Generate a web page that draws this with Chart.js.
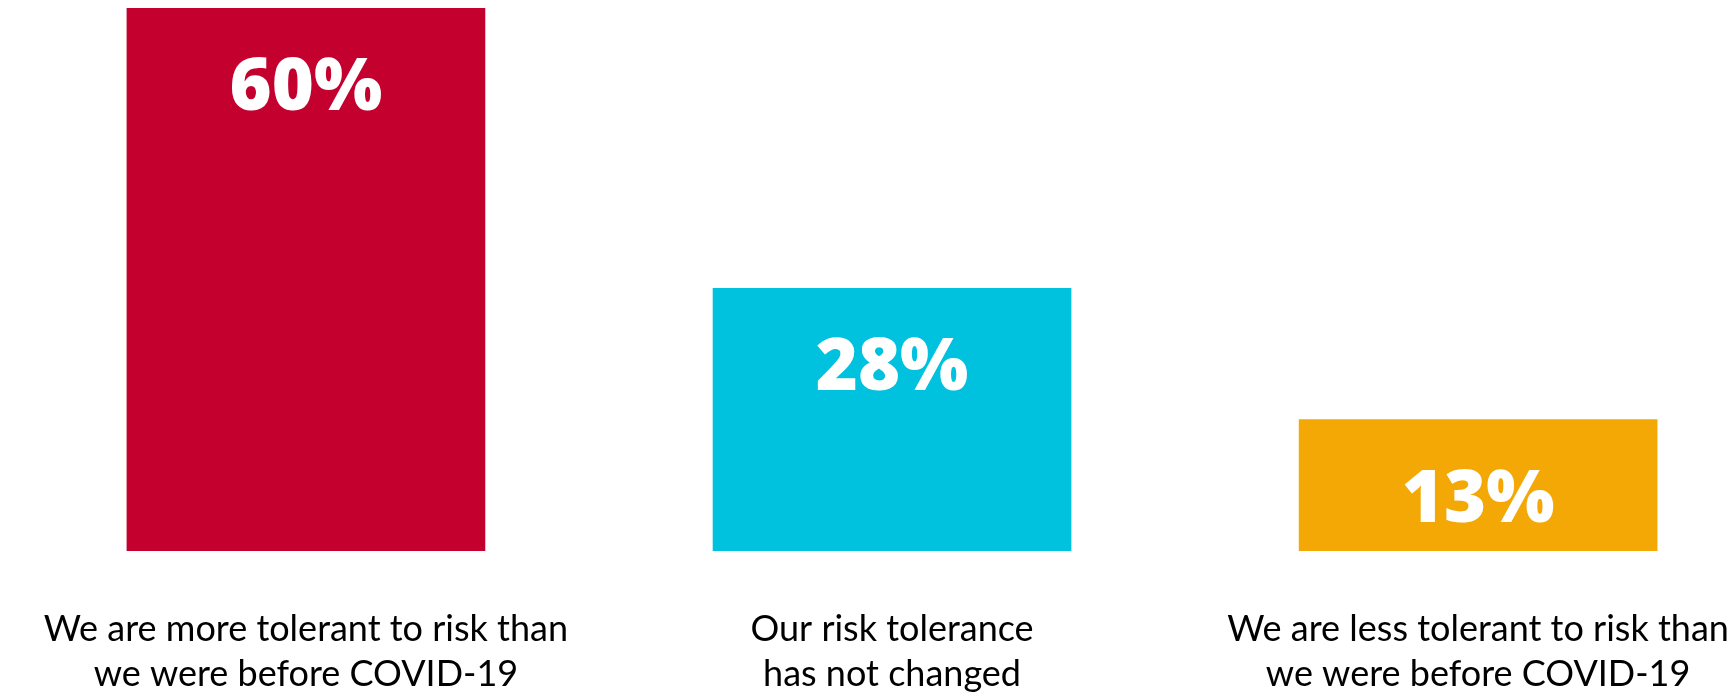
<!DOCTYPE html>
<html>
<head>
<meta charset="utf-8">
<script src="https://cdn.jsdelivr.net/npm/chart.js@4"></script>
<style>
  html, body { margin: 0; padding: 0; background: #fff; overflow: hidden; }
</style>
</head>
<body>
<canvas id="c" width="1736" height="692"></canvas>
<script>
// Survey answers: how risk tolerance has shifted since COVID-19
const categories = [
  ["We are more tolerant to risk than", "we were before COVID-19"],
  ["Our risk tolerance", "has not changed"],
  ["We are less tolerant to risk than", "we were before COVID-19"]
];
const values = [60, 28, 13];
const barColors = ["#C4002F", "#00C1DE", "#F4A806"];
const positions = [0, 1, 2];

// White percentage printed near the top of each bar
const valueLabels = {
  id: 'valueLabels',
  afterDatasetsDraw(chart) {
    const { ctx } = chart;
    const meta = chart.getDatasetMeta(0);
    ctx.save();
    ctx.fillStyle = '#fff';
    ctx.font = '800 72px "Open Sans"';
    ctx.textAlign = 'center';
    ctx.textBaseline = 'alphabetic';
    meta.data.forEach((bar, i) => {
      ctx.fillText(values[i] + '%', bar.x, bar.y + 102);
    });
    ctx.restore();
  }
};

new Chart(document.getElementById('c'), {
  type: 'bar',
  data: {
    labels: categories,
    datasets: [{
      data: positions.map((p, i) => ({ x: p, y: values[i] })),
      backgroundColor: barColors,
      barThickness: 358,
      base: -2
    }]
  },
  options: {
    responsive: false,
    animation: false,
    layout: { padding: { top: 8, left: 0, right: 0, bottom: 0 } },
    plugins: { legend: { display: false }, tooltip: { enabled: false } },
    scales: {
      x: {
        type: 'linear', min: -0.522, max: 2.44, offset: false,
        grid: { display: false, drawTicks: false }, border: { display: false },
        afterBuildTicks: (s) => { s.ticks = positions.map(v => ({ value: v })); },
        afterFit: (s) => { s.paddingLeft = 0; s.paddingRight = 0; s.height = 141; },
        ticks: {
          autoSkip: false, maxRotation: 0, minRotation: 0, padding: 56, color: '#000',
          font: { family: 'Lato', size: 36, weight: '400', lineHeight: '45px' },
          callback: (v) => categories[v]
        }
      },
      y: { display: false, min: -2, max: 60 }
    }
  },
  plugins: [valueLabels]
});
</script>
</body>
</html>
